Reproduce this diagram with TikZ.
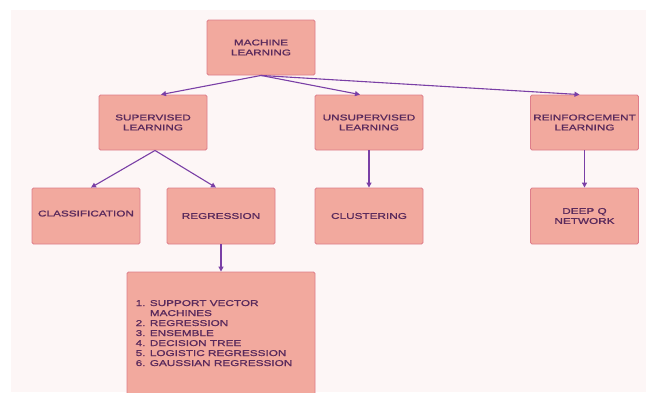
\documentclass[tikz,border=0pt]{standalone}
\usepackage{fontspec}
\usepackage{xcolor}
\usepackage{tikz}
\usetikzlibrary{arrows.meta, positioning}
\newfontfamily\boxfont[FakeStretch=1.4, FakeBold=1.2]{Liberation Sans}
\definecolor{bgpink}{HTML}{FDF6F6}
\definecolor{boxfill}{HTML}{F2A99E}
\definecolor{boxline}{HTML}{DE7D8A}
\definecolor{arrowpurple}{HTML}{7A3FA6}
\definecolor{textpurple}{HTML}{5A2A5C}

\begin{document}
\begin{tikzpicture}[x=1pt, y=-1pt,
        box/.style={rectangle, rounded corners=1.5pt, draw=boxline, fill=boxfill, line width=0.9pt, minimum width=108pt, minimum height=56pt, align=center, text=textpurple, font=\boxfont\fontsize{8.4}{10}\selectfont, inner sep=1pt},
        arrow/.style={-{Triangle[length=5pt, width=5pt]}, line width=1.1pt, arrowpurple}
    ]
        \useasboundingbox (0,0) rectangle (646,392);
        \clip (0,0) rectangle (646,392);
        \fill[bgpink] (11,10) rectangle (646,392);

        % Nodes
        \node (ml) [box, minimum height=55pt] at (261,47.5) {MACHINE\\LEARNING};
        \node (sup) [box, minimum height=55pt] at (153,122.5) {SUPERVISED\\LEARNING};
        \node (unsup) [box, minimum height=55pt] at (369,122.5) {UNSUPERVISED\\LEARNING};
        \node (reinf) [box, minimum height=55pt] at (584.5,122.5) {REINFORCEMENT\\LEARNING};
        \node (class) [box] at (86,216) {\raisebox{5pt}{CLASSIFICATION}};
        \node (regr) [box] at (221,216) {REGRESSION};
        \node (clust) [box] at (369,216) {CLUSTERING};
        \node (dqn) [box] at (584.5,216) {DEEP Q\\NETWORK};
        \node (algos) [box, minimum width=188pt, minimum height=124pt, align=left] at (221,334) {%
            \begin{tabular}{@{}l@{ }l@{}}
            1. & SUPPORT VECTOR\\
               & MACHINES\\
            2. & REGRESSION\\
            3. & ENSEMBLE\\
            4. & DECISION TREE\\
            5. & LOGISTIC REGRESSION\\
            6. & GAUSSIAN REGRESSION
            \end{tabular}\hspace{14pt}};

        % Arrows
        \draw [arrow] (ml.south) -- ([xshift=8pt]sup.north);
        \draw [arrow] (ml.south) -- ([xshift=-9pt]unsup.north);
        \draw [arrow] (ml.south) -- ([xshift=-5pt]reinf.north);
        \draw [arrow] ([xshift=2pt]sup.south) -- ([xshift=5pt]class.north);
        \draw [arrow] ([xshift=2pt]sup.south) -- ([xshift=-5pt]regr.north);
        \draw [arrow] (unsup.south) -- (clust.north);
        \draw [arrow] (reinf.south) -- (dqn.north);
        \draw [arrow] (regr.south) -- (algos.north);

    \end{tikzpicture}
\end{document}
